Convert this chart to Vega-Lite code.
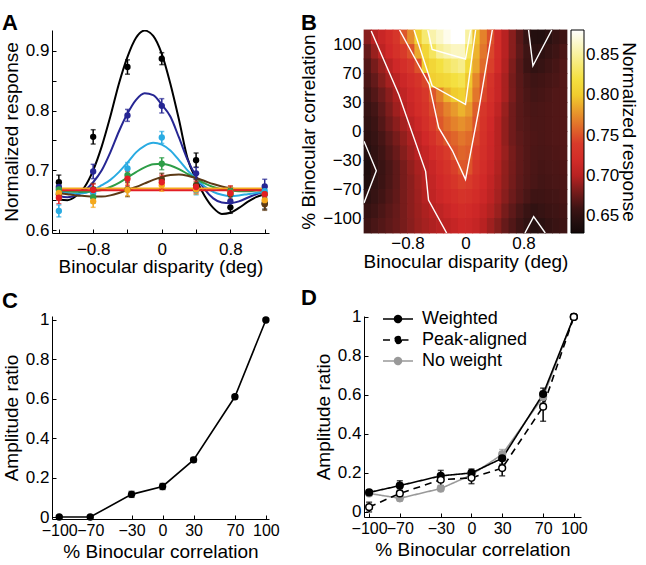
{
"$schema":"https://vega.github.io/schema/vega-lite/v6.json",
"background":"white",
"padding":{"left":2,"top":11,"right":0,"bottom":0},
"bounds":"flush",
"columns":2,
"spacing":{"row":83,"column":95},
"resolve":{"scale":{"color":"independent","stroke":"independent","fill":"independent","strokeDash":"independent","strokeWidth":"independent"},"legend":{"color":"independent","stroke":"independent","fill":"independent","strokeDash":"independent","strokeWidth":"independent"}},
"datasets":{
"curvesA":[
{"s":"100","d":-1.2,"v":0.651},{"s":"100","d":-1.1,"v":0.650},{"s":"100","d":-1.0,"v":0.657},{"s":"100","d":-0.9,"v":0.672},{"s":"100","d":-0.8,"v":0.700},{"s":"100","d":-0.7,"v":0.740},{"s":"100","d":-0.6,"v":0.790},{"s":"100","d":-0.5,"v":0.845},{"s":"100","d":-0.4,"v":0.890},{"s":"100","d":-0.3,"v":0.922},{"s":"100","d":-0.2,"v":0.934},{"s":"100","d":-0.1,"v":0.925},{"s":"100","d":0,"v":0.895},{"s":"100","d":0.1,"v":0.845},{"s":"100","d":0.2,"v":0.785},{"s":"100","d":0.3,"v":0.720},{"s":"100","d":0.4,"v":0.685},{"s":"100","d":0.5,"v":0.657},{"s":"100","d":0.6,"v":0.637},{"s":"100","d":0.7,"v":0.627},{"s":"100","d":0.8,"v":0.629},{"s":"100","d":0.9,"v":0.637},{"s":"100","d":1.0,"v":0.647},{"s":"100","d":1.1,"v":0.655},{"s":"100","d":1.2,"v":0.660},
{"s":"70","d":-1.2,"v":0.657},{"s":"70","d":-1.1,"v":0.655},{"s":"70","d":-1.0,"v":0.658},{"s":"70","d":-0.9,"v":0.666},{"s":"70","d":-0.8,"v":0.680},{"s":"70","d":-0.7,"v":0.700},{"s":"70","d":-0.6,"v":0.730},{"s":"70","d":-0.5,"v":0.765},{"s":"70","d":-0.4,"v":0.795},{"s":"70","d":-0.3,"v":0.818},{"s":"70","d":-0.2,"v":0.829},{"s":"70","d":-0.1,"v":0.826},{"s":"70","d":0,"v":0.810},{"s":"70","d":0.1,"v":0.790},{"s":"70","d":0.2,"v":0.755},{"s":"70","d":0.3,"v":0.718},{"s":"70","d":0.4,"v":0.690},{"s":"70","d":0.5,"v":0.668},{"s":"70","d":0.6,"v":0.653},{"s":"70","d":0.7,"v":0.646},{"s":"70","d":0.8,"v":0.645},{"s":"70","d":0.9,"v":0.648},{"s":"70","d":1.0,"v":0.654},{"s":"70","d":1.1,"v":0.660},{"s":"70","d":1.2,"v":0.664},
{"s":"30","d":-1.2,"v":0.664},{"s":"30","d":-1.1,"v":0.662},{"s":"30","d":-1.0,"v":0.661},{"s":"30","d":-0.9,"v":0.662},{"s":"30","d":-0.8,"v":0.667},{"s":"30","d":-0.7,"v":0.675},{"s":"30","d":-0.6,"v":0.684},{"s":"30","d":-0.5,"v":0.697},{"s":"30","d":-0.4,"v":0.713},{"s":"30","d":-0.3,"v":0.730},{"s":"30","d":-0.2,"v":0.741},{"s":"30","d":-0.1,"v":0.746},{"s":"30","d":0,"v":0.743},{"s":"30","d":0.1,"v":0.733},{"s":"30","d":0.2,"v":0.717},{"s":"30","d":0.3,"v":0.700},{"s":"30","d":0.4,"v":0.686},{"s":"30","d":0.5,"v":0.673},{"s":"30","d":0.6,"v":0.664},{"s":"30","d":0.7,"v":0.659},{"s":"30","d":0.8,"v":0.657},{"s":"30","d":0.9,"v":0.658},{"s":"30","d":1.0,"v":0.660},{"s":"30","d":1.1,"v":0.662},{"s":"30","d":1.2,"v":0.664},
{"s":"0","d":-1.2,"v":0.666},{"s":"0","d":-1.1,"v":0.665},{"s":"0","d":-1.0,"v":0.664},{"s":"0","d":-0.9,"v":0.664},{"s":"0","d":-0.8,"v":0.665},{"s":"0","d":-0.7,"v":0.667},{"s":"0","d":-0.6,"v":0.672},{"s":"0","d":-0.5,"v":0.679},{"s":"0","d":-0.4,"v":0.688},{"s":"0","d":-0.3,"v":0.697},{"s":"0","d":-0.2,"v":0.705},{"s":"0","d":-0.1,"v":0.710},{"s":"0","d":0,"v":0.711},{"s":"0","d":0.1,"v":0.708},{"s":"0","d":0.2,"v":0.702},{"s":"0","d":0.3,"v":0.694},{"s":"0","d":0.4,"v":0.686},{"s":"0","d":0.5,"v":0.678},{"s":"0","d":0.6,"v":0.672},{"s":"0","d":0.7,"v":0.668},{"s":"0","d":0.8,"v":0.666},{"s":"0","d":0.9,"v":0.665},{"s":"0","d":1.0,"v":0.665},{"s":"0","d":1.1,"v":0.666},{"s":"0","d":1.2,"v":0.666},
{"s":"-30","d":-1.2,"v":0.662},{"s":"-30","d":-1.1,"v":0.660},{"s":"-30","d":-1.0,"v":0.658},{"s":"-30","d":-0.9,"v":0.657},{"s":"-30","d":-0.8,"v":0.656},{"s":"-30","d":-0.7,"v":0.656},{"s":"-30","d":-0.6,"v":0.658},{"s":"-30","d":-0.5,"v":0.662},{"s":"-30","d":-0.4,"v":0.667},{"s":"-30","d":-0.3,"v":0.672},{"s":"-30","d":-0.2,"v":0.678},{"s":"-30","d":-0.1,"v":0.684},{"s":"-30","d":0,"v":0.689},{"s":"-30","d":0.1,"v":0.692},{"s":"-30","d":0.2,"v":0.693},{"s":"-30","d":0.3,"v":0.691},{"s":"-30","d":0.4,"v":0.687},{"s":"-30","d":0.5,"v":0.682},{"s":"-30","d":0.6,"v":0.677},{"s":"-30","d":0.7,"v":0.673},{"s":"-30","d":0.8,"v":0.670},{"s":"-30","d":0.9,"v":0.668},{"s":"-30","d":1.0,"v":0.667},{"s":"-30","d":1.1,"v":0.667},{"s":"-30","d":1.2,"v":0.667},
{"s":"-70","d":-1.2,"v":0.6695},{"s":"-70","d":1.2,"v":0.6695},
{"s":"-100","d":-1.2,"v":0.6665},{"s":"-100","d":1.2,"v":0.6665}
],
"pointsA":[
{"s":"100","d":-1.2,"v":0.680,"e":0.012},{"s":"100","d":-0.8,"v":0.756,"e":0.012},{"s":"100","d":-0.4,"v":0.873,"e":0.012},{"s":"100","d":0,"v":0.887,"e":0.01},{"s":"100","d":0.4,"v":0.717,"e":0.012},{"s":"100","d":0.8,"v":0.638,"e":0.01},{"s":"100","d":1.2,"v":0.645,"e":0.01},
{"s":"70","d":-1.2,"v":0.672,"e":0.01},{"s":"70","d":-0.8,"v":0.698,"e":0.012},{"s":"70","d":-0.4,"v":0.792,"e":0.01},{"s":"70","d":0,"v":0.808,"e":0.012},{"s":"70","d":0.4,"v":0.695,"e":0.01},{"s":"70","d":0.8,"v":0.648,"e":0.01},{"s":"70","d":1.2,"v":0.673,"e":0.012},
{"s":"30","d":-1.2,"v":0.632,"e":0.01},{"s":"30","d":-0.8,"v":0.662,"e":0.01},{"s":"30","d":-0.4,"v":0.703,"e":0.01},{"s":"30","d":0,"v":0.755,"e":0.01},{"s":"30","d":0.4,"v":0.667,"e":0.008},{"s":"30","d":0.8,"v":0.662,"e":0.008},{"s":"30","d":1.2,"v":0.665,"e":0.008},
{"s":"0","d":-1.2,"v":0.668,"e":0.008},{"s":"0","d":-0.8,"v":0.655,"e":0.01},{"s":"0","d":-0.4,"v":0.692,"e":0.01},{"s":"0","d":0,"v":0.711,"e":0.01},{"s":"0","d":0.4,"v":0.672,"e":0.008},{"s":"0","d":0.8,"v":0.665,"e":0.008},{"s":"0","d":1.2,"v":0.660,"e":0.008},
{"s":"-30","d":-1.2,"v":0.660,"e":0.01},{"s":"-30","d":-0.8,"v":0.668,"e":0.01},{"s":"-30","d":-0.4,"v":0.668,"e":0.012},{"s":"-30","d":0,"v":0.685,"e":0.01},{"s":"-30","d":0.4,"v":0.675,"e":0.01},{"s":"-30","d":0.8,"v":0.660,"e":0.01},{"s":"-30","d":1.2,"v":0.643,"e":0.01},
{"s":"-70","d":-1.2,"v":0.662,"e":0.01},{"s":"-70","d":-0.8,"v":0.648,"e":0.01},{"s":"-70","d":-0.4,"v":0.667,"e":0.01},{"s":"-70","d":0,"v":0.675,"e":0.01},{"s":"-70","d":0.4,"v":0.668,"e":0.008},{"s":"-70","d":0.8,"v":0.662,"e":0.01},{"s":"-70","d":1.2,"v":0.650,"e":0.01},
{"s":"-100","d":-1.2,"v":0.654,"e":0.01},{"s":"-100","d":-0.8,"v":0.667,"e":0.01},{"s":"-100","d":-0.4,"v":0.686,"e":0.012},{"s":"-100","d":0,"v":0.680,"e":0.012},{"s":"-100","d":0.4,"v":0.672,"e":0.01},{"s":"-100","d":0.8,"v":0.662,"e":0.012},{"s":"-100","d":1.2,"v":0.660,"e":0.012}
],
"heatB":[
{"d":-1.35,"c":107.5,"v":0.685},{"d":-1.25,"c":107.5,"v":0.70},{"d":-1.15,"c":107.5,"v":0.71},{"d":-1.05,"c":107.5,"v":0.72},{"d":-0.95,"c":107.5,"v":0.735},{"d":-0.85,"c":107.5,"v":0.752},{"d":-0.75,"c":107.5,"v":0.775},{"d":-0.65,"c":107.5,"v":0.805},{"d":-0.55,"c":107.5,"v":0.836},{"d":-0.45,"c":107.5,"v":0.855},{"d":-0.35,"c":107.5,"v":0.865},{"d":-0.25,"c":107.5,"v":0.875},{"d":-0.15,"c":107.5,"v":0.882},{"d":-0.05,"c":107.5,"v":0.885},{"d":0.05,"c":107.5,"v":0.852},{"d":0.15,"c":107.5,"v":0.795},{"d":0.25,"c":107.5,"v":0.77},{"d":0.35,"c":107.5,"v":0.75},{"d":0.45,"c":107.5,"v":0.72},{"d":0.55,"c":107.5,"v":0.70},{"d":0.65,"c":107.5,"v":0.685},{"d":0.75,"c":107.5,"v":0.67},{"d":0.85,"c":107.5,"v":0.655},{"d":0.95,"c":107.5,"v":0.643},{"d":1.05,"c":107.5,"v":0.642},{"d":1.15,"c":107.5,"v":0.648},{"d":1.25,"c":107.5,"v":0.655},{"d":1.35,"c":107.5,"v":0.66},
{"d":-1.35,"c":92.5,"v":0.675},{"d":-1.25,"c":92.5,"v":0.69},{"d":-1.15,"c":92.5,"v":0.703},{"d":-1.05,"c":92.5,"v":0.715},{"d":-0.95,"c":92.5,"v":0.728},{"d":-0.85,"c":92.5,"v":0.74},{"d":-0.75,"c":92.5,"v":0.75},{"d":-0.65,"c":92.5,"v":0.786},{"d":-0.55,"c":92.5,"v":0.81},{"d":-0.45,"c":92.5,"v":0.83},{"d":-0.35,"c":92.5,"v":0.849},{"d":-0.25,"c":92.5,"v":0.856},{"d":-0.15,"c":92.5,"v":0.862},{"d":-0.05,"c":92.5,"v":0.862},{"d":0.05,"c":92.5,"v":0.83},{"d":0.15,"c":92.5,"v":0.79},{"d":0.25,"c":92.5,"v":0.765},{"d":0.35,"c":92.5,"v":0.745},{"d":0.45,"c":92.5,"v":0.72},{"d":0.55,"c":92.5,"v":0.70},{"d":0.65,"c":92.5,"v":0.685},{"d":0.75,"c":92.5,"v":0.672},{"d":0.85,"c":92.5,"v":0.66},{"d":0.95,"c":92.5,"v":0.648},{"d":1.05,"c":92.5,"v":0.65},{"d":1.15,"c":92.5,"v":0.655},{"d":1.25,"c":92.5,"v":0.66},{"d":1.35,"c":92.5,"v":0.665},
{"d":-1.35,"c":77.5,"v":0.668},{"d":-1.25,"c":77.5,"v":0.68},{"d":-1.15,"c":77.5,"v":0.69},{"d":-1.05,"c":77.5,"v":0.702},{"d":-0.95,"c":77.5,"v":0.714},{"d":-0.85,"c":77.5,"v":0.724},{"d":-0.75,"c":77.5,"v":0.735},{"d":-0.65,"c":77.5,"v":0.75},{"d":-0.55,"c":77.5,"v":0.80},{"d":-0.45,"c":77.5,"v":0.81},{"d":-0.35,"c":77.5,"v":0.82},{"d":-0.25,"c":77.5,"v":0.83},{"d":-0.15,"c":77.5,"v":0.838},{"d":-0.05,"c":77.5,"v":0.845},{"d":0.05,"c":77.5,"v":0.815},{"d":0.15,"c":77.5,"v":0.785},{"d":0.25,"c":77.5,"v":0.76},{"d":0.35,"c":77.5,"v":0.742},{"d":0.45,"c":77.5,"v":0.718},{"d":0.55,"c":77.5,"v":0.698},{"d":0.65,"c":77.5,"v":0.682},{"d":0.75,"c":77.5,"v":0.669},{"d":0.85,"c":77.5,"v":0.658},{"d":0.95,"c":77.5,"v":0.652},{"d":1.05,"c":77.5,"v":0.655},{"d":1.15,"c":77.5,"v":0.66},{"d":1.25,"c":77.5,"v":0.663},{"d":1.35,"c":77.5,"v":0.667},
{"d":-1.35,"c":60,"v":0.665},{"d":-1.25,"c":60,"v":0.674},{"d":-1.15,"c":60,"v":0.684},{"d":-1.05,"c":60,"v":0.694},{"d":-0.95,"c":60,"v":0.702},{"d":-0.85,"c":60,"v":0.712},{"d":-0.75,"c":60,"v":0.722},{"d":-0.65,"c":60,"v":0.732},{"d":-0.55,"c":60,"v":0.745},{"d":-0.45,"c":60,"v":0.803},{"d":-0.35,"c":60,"v":0.808},{"d":-0.25,"c":60,"v":0.812},{"d":-0.15,"c":60,"v":0.82},{"d":-0.05,"c":60,"v":0.825},{"d":0.05,"c":60,"v":0.798},{"d":0.15,"c":60,"v":0.772},{"d":0.25,"c":60,"v":0.75},{"d":0.35,"c":60,"v":0.73},{"d":0.45,"c":60,"v":0.71},{"d":0.55,"c":60,"v":0.695},{"d":0.65,"c":60,"v":0.68},{"d":0.75,"c":60,"v":0.67},{"d":0.85,"c":60,"v":0.663},{"d":0.95,"c":60,"v":0.66},{"d":1.05,"c":60,"v":0.661},{"d":1.15,"c":60,"v":0.663},{"d":1.25,"c":60,"v":0.665},{"d":1.35,"c":60,"v":0.668},
{"d":-1.35,"c":40,"v":0.66},{"d":-1.25,"c":40,"v":0.668},{"d":-1.15,"c":40,"v":0.677},{"d":-1.05,"c":40,"v":0.686},{"d":-0.95,"c":40,"v":0.696},{"d":-0.85,"c":40,"v":0.705},{"d":-0.75,"c":40,"v":0.714},{"d":-0.65,"c":40,"v":0.724},{"d":-0.55,"c":40,"v":0.736},{"d":-0.45,"c":40,"v":0.752},{"d":-0.35,"c":40,"v":0.77},{"d":-0.25,"c":40,"v":0.79},{"d":-0.15,"c":40,"v":0.80},{"d":-0.05,"c":40,"v":0.806},{"d":0.05,"c":40,"v":0.792},{"d":0.15,"c":40,"v":0.765},{"d":0.25,"c":40,"v":0.745},{"d":0.35,"c":40,"v":0.726},{"d":0.45,"c":40,"v":0.71},{"d":0.55,"c":40,"v":0.695},{"d":0.65,"c":40,"v":0.681},{"d":0.75,"c":40,"v":0.671},{"d":0.85,"c":40,"v":0.665},{"d":0.95,"c":40,"v":0.662},{"d":1.05,"c":40,"v":0.663},{"d":1.15,"c":40,"v":0.665},{"d":1.25,"c":40,"v":0.667},{"d":1.35,"c":40,"v":0.668},
{"d":-1.35,"c":22.5,"v":0.655},{"d":-1.25,"c":22.5,"v":0.662},{"d":-1.15,"c":22.5,"v":0.672},{"d":-1.05,"c":22.5,"v":0.682},{"d":-0.95,"c":22.5,"v":0.692},{"d":-0.85,"c":22.5,"v":0.70},{"d":-0.75,"c":22.5,"v":0.71},{"d":-0.65,"c":22.5,"v":0.72},{"d":-0.55,"c":22.5,"v":0.73},{"d":-0.45,"c":22.5,"v":0.745},{"d":-0.35,"c":22.5,"v":0.758},{"d":-0.25,"c":22.5,"v":0.77},{"d":-0.15,"c":22.5,"v":0.78},{"d":-0.05,"c":22.5,"v":0.79},{"d":0.05,"c":22.5,"v":0.78},{"d":0.15,"c":22.5,"v":0.755},{"d":0.25,"c":22.5,"v":0.735},{"d":0.35,"c":22.5,"v":0.72},{"d":0.45,"c":22.5,"v":0.705},{"d":0.55,"c":22.5,"v":0.69},{"d":0.65,"c":22.5,"v":0.678},{"d":0.75,"c":22.5,"v":0.67},{"d":0.85,"c":22.5,"v":0.666},{"d":0.95,"c":22.5,"v":0.664},{"d":1.05,"c":22.5,"v":0.665},{"d":1.15,"c":22.5,"v":0.666},{"d":1.25,"c":22.5,"v":0.667},{"d":1.35,"c":22.5,"v":0.668},
{"d":-1.35,"c":7.5,"v":0.652},{"d":-1.25,"c":7.5,"v":0.658},{"d":-1.15,"c":7.5,"v":0.668},{"d":-1.05,"c":7.5,"v":0.678},{"d":-0.95,"c":7.5,"v":0.686},{"d":-0.85,"c":7.5,"v":0.694},{"d":-0.75,"c":7.5,"v":0.702},{"d":-0.65,"c":7.5,"v":0.712},{"d":-0.55,"c":7.5,"v":0.725},{"d":-0.45,"c":7.5,"v":0.74},{"d":-0.35,"c":7.5,"v":0.752},{"d":-0.25,"c":7.5,"v":0.762},{"d":-0.15,"c":7.5,"v":0.77},{"d":-0.05,"c":7.5,"v":0.776},{"d":0.05,"c":7.5,"v":0.77},{"d":0.15,"c":7.5,"v":0.75},{"d":0.25,"c":7.5,"v":0.73},{"d":0.35,"c":7.5,"v":0.715},{"d":0.45,"c":7.5,"v":0.70},{"d":0.55,"c":7.5,"v":0.688},{"d":0.65,"c":7.5,"v":0.678},{"d":0.75,"c":7.5,"v":0.67},{"d":0.85,"c":7.5,"v":0.667},{"d":0.95,"c":7.5,"v":0.665},{"d":1.05,"c":7.5,"v":0.665},{"d":1.15,"c":7.5,"v":0.666},{"d":1.25,"c":7.5,"v":0.667},{"d":1.35,"c":7.5,"v":0.668},
{"d":-1.35,"c":-7.5,"v":0.65},{"d":-1.25,"c":-7.5,"v":0.655},{"d":-1.15,"c":-7.5,"v":0.663},{"d":-1.05,"c":-7.5,"v":0.672},{"d":-0.95,"c":-7.5,"v":0.68},{"d":-0.85,"c":-7.5,"v":0.688},{"d":-0.75,"c":-7.5,"v":0.696},{"d":-0.65,"c":-7.5,"v":0.705},{"d":-0.55,"c":-7.5,"v":0.715},{"d":-0.45,"c":-7.5,"v":0.728},{"d":-0.35,"c":-7.5,"v":0.742},{"d":-0.25,"c":-7.5,"v":0.752},{"d":-0.15,"c":-7.5,"v":0.758},{"d":-0.05,"c":-7.5,"v":0.765},{"d":0.05,"c":-7.5,"v":0.76},{"d":0.15,"c":-7.5,"v":0.745},{"d":0.25,"c":-7.5,"v":0.728},{"d":0.35,"c":-7.5,"v":0.713},{"d":0.45,"c":-7.5,"v":0.70},{"d":0.55,"c":-7.5,"v":0.688},{"d":0.65,"c":-7.5,"v":0.678},{"d":0.75,"c":-7.5,"v":0.672},{"d":0.85,"c":-7.5,"v":0.668},{"d":0.95,"c":-7.5,"v":0.666},{"d":1.05,"c":-7.5,"v":0.665},{"d":1.15,"c":-7.5,"v":0.666},{"d":1.25,"c":-7.5,"v":0.667},{"d":1.35,"c":-7.5,"v":0.668},
{"d":-1.35,"c":-22.5,"v":0.645},{"d":-1.25,"c":-22.5,"v":0.652},{"d":-1.15,"c":-22.5,"v":0.66},{"d":-1.05,"c":-22.5,"v":0.668},{"d":-0.95,"c":-22.5,"v":0.676},{"d":-0.85,"c":-22.5,"v":0.684},{"d":-0.75,"c":-22.5,"v":0.692},{"d":-0.65,"c":-22.5,"v":0.70},{"d":-0.55,"c":-22.5,"v":0.708},{"d":-0.45,"c":-22.5,"v":0.718},{"d":-0.35,"c":-22.5,"v":0.728},{"d":-0.25,"c":-22.5,"v":0.74},{"d":-0.15,"c":-22.5,"v":0.752},{"d":-0.05,"c":-22.5,"v":0.758},{"d":0.05,"c":-22.5,"v":0.755},{"d":0.15,"c":-22.5,"v":0.74},{"d":0.25,"c":-22.5,"v":0.725},{"d":0.35,"c":-22.5,"v":0.712},{"d":0.45,"c":-22.5,"v":0.70},{"d":0.55,"c":-22.5,"v":0.69},{"d":0.65,"c":-22.5,"v":0.68},{"d":0.75,"c":-22.5,"v":0.673},{"d":0.85,"c":-22.5,"v":0.668},{"d":0.95,"c":-22.5,"v":0.665},{"d":1.05,"c":-22.5,"v":0.664},{"d":1.15,"c":-22.5,"v":0.665},{"d":1.25,"c":-22.5,"v":0.666},{"d":1.35,"c":-22.5,"v":0.667},
{"d":-1.35,"c":-40,"v":0.638},{"d":-1.25,"c":-40,"v":0.65},{"d":-1.15,"c":-40,"v":0.657},{"d":-1.05,"c":-40,"v":0.664},{"d":-0.95,"c":-40,"v":0.672},{"d":-0.85,"c":-40,"v":0.68},{"d":-0.75,"c":-40,"v":0.688},{"d":-0.65,"c":-40,"v":0.695},{"d":-0.55,"c":-40,"v":0.702},{"d":-0.45,"c":-40,"v":0.71},{"d":-0.35,"c":-40,"v":0.72},{"d":-0.25,"c":-40,"v":0.73},{"d":-0.15,"c":-40,"v":0.742},{"d":-0.05,"c":-40,"v":0.752},{"d":0.05,"c":-40,"v":0.75},{"d":0.15,"c":-40,"v":0.735},{"d":0.25,"c":-40,"v":0.722},{"d":0.35,"c":-40,"v":0.71},{"d":0.45,"c":-40,"v":0.698},{"d":0.55,"c":-40,"v":0.688},{"d":0.65,"c":-40,"v":0.68},{"d":0.75,"c":-40,"v":0.673},{"d":0.85,"c":-40,"v":0.668},{"d":0.95,"c":-40,"v":0.665},{"d":1.05,"c":-40,"v":0.663},{"d":1.15,"c":-40,"v":0.664},{"d":1.25,"c":-40,"v":0.665},{"d":1.35,"c":-40,"v":0.666},
{"d":-1.35,"c":-60,"v":0.64},{"d":-1.25,"c":-60,"v":0.651},{"d":-1.15,"c":-60,"v":0.658},{"d":-1.05,"c":-60,"v":0.665},{"d":-0.95,"c":-60,"v":0.672},{"d":-0.85,"c":-60,"v":0.68},{"d":-0.75,"c":-60,"v":0.686},{"d":-0.65,"c":-60,"v":0.693},{"d":-0.55,"c":-60,"v":0.70},{"d":-0.45,"c":-60,"v":0.707},{"d":-0.35,"c":-60,"v":0.715},{"d":-0.25,"c":-60,"v":0.724},{"d":-0.15,"c":-60,"v":0.733},{"d":-0.05,"c":-60,"v":0.742},{"d":0.05,"c":-60,"v":0.74},{"d":0.15,"c":-60,"v":0.728},{"d":0.25,"c":-60,"v":0.717},{"d":0.35,"c":-60,"v":0.706},{"d":0.45,"c":-60,"v":0.696},{"d":0.55,"c":-60,"v":0.687},{"d":0.65,"c":-60,"v":0.679},{"d":0.75,"c":-60,"v":0.672},{"d":0.85,"c":-60,"v":0.667},{"d":0.95,"c":-60,"v":0.664},{"d":1.05,"c":-60,"v":0.662},{"d":1.15,"c":-60,"v":0.663},{"d":1.25,"c":-60,"v":0.664},{"d":1.35,"c":-60,"v":0.665},
{"d":-1.35,"c":-77.5,"v":0.649},{"d":-1.25,"c":-77.5,"v":0.655},{"d":-1.15,"c":-77.5,"v":0.661},{"d":-1.05,"c":-77.5,"v":0.667},{"d":-0.95,"c":-77.5,"v":0.673},{"d":-0.85,"c":-77.5,"v":0.68},{"d":-0.75,"c":-77.5,"v":0.686},{"d":-0.65,"c":-77.5,"v":0.692},{"d":-0.55,"c":-77.5,"v":0.699},{"d":-0.45,"c":-77.5,"v":0.705},{"d":-0.35,"c":-77.5,"v":0.712},{"d":-0.25,"c":-77.5,"v":0.718},{"d":-0.15,"c":-77.5,"v":0.724},{"d":-0.05,"c":-77.5,"v":0.73},{"d":0.05,"c":-77.5,"v":0.728},{"d":0.15,"c":-77.5,"v":0.72},{"d":0.25,"c":-77.5,"v":0.712},{"d":0.35,"c":-77.5,"v":0.703},{"d":0.45,"c":-77.5,"v":0.694},{"d":0.55,"c":-77.5,"v":0.685},{"d":0.65,"c":-77.5,"v":0.677},{"d":0.75,"c":-77.5,"v":0.67},{"d":0.85,"c":-77.5,"v":0.664},{"d":0.95,"c":-77.5,"v":0.66},{"d":1.05,"c":-77.5,"v":0.66},{"d":1.15,"c":-77.5,"v":0.661},{"d":1.25,"c":-77.5,"v":0.662},{"d":1.35,"c":-77.5,"v":0.664},
{"d":-1.35,"c":-92.5,"v":0.655},{"d":-1.25,"c":-92.5,"v":0.66},{"d":-1.15,"c":-92.5,"v":0.665},{"d":-1.05,"c":-92.5,"v":0.67},{"d":-0.95,"c":-92.5,"v":0.675},{"d":-0.85,"c":-92.5,"v":0.68},{"d":-0.75,"c":-92.5,"v":0.686},{"d":-0.65,"c":-92.5,"v":0.691},{"d":-0.55,"c":-92.5,"v":0.696},{"d":-0.45,"c":-92.5,"v":0.70},{"d":-0.35,"c":-92.5,"v":0.704},{"d":-0.25,"c":-92.5,"v":0.71},{"d":-0.15,"c":-92.5,"v":0.715},{"d":-0.05,"c":-92.5,"v":0.72},{"d":0.05,"c":-92.5,"v":0.718},{"d":0.15,"c":-92.5,"v":0.713},{"d":0.25,"c":-92.5,"v":0.706},{"d":0.35,"c":-92.5,"v":0.698},{"d":0.45,"c":-92.5,"v":0.69},{"d":0.55,"c":-92.5,"v":0.68},{"d":0.65,"c":-92.5,"v":0.672},{"d":0.75,"c":-92.5,"v":0.664},{"d":0.85,"c":-92.5,"v":0.657},{"d":0.95,"c":-92.5,"v":0.652},{"d":1.05,"c":-92.5,"v":0.655},{"d":1.15,"c":-92.5,"v":0.658},{"d":1.25,"c":-92.5,"v":0.66},{"d":1.35,"c":-92.5,"v":0.662},
{"d":-1.35,"c":-107.5,"v":0.66},{"d":-1.25,"c":-107.5,"v":0.664},{"d":-1.15,"c":-107.5,"v":0.668},{"d":-1.05,"c":-107.5,"v":0.672},{"d":-0.95,"c":-107.5,"v":0.676},{"d":-0.85,"c":-107.5,"v":0.68},{"d":-0.75,"c":-107.5,"v":0.685},{"d":-0.65,"c":-107.5,"v":0.69},{"d":-0.55,"c":-107.5,"v":0.694},{"d":-0.45,"c":-107.5,"v":0.697},{"d":-0.35,"c":-107.5,"v":0.70},{"d":-0.25,"c":-107.5,"v":0.703},{"d":-0.15,"c":-107.5,"v":0.708},{"d":-0.05,"c":-107.5,"v":0.713},{"d":0.05,"c":-107.5,"v":0.712},{"d":0.15,"c":-107.5,"v":0.708},{"d":0.25,"c":-107.5,"v":0.70},{"d":0.35,"c":-107.5,"v":0.692},{"d":0.45,"c":-107.5,"v":0.684},{"d":0.55,"c":-107.5,"v":0.675},{"d":0.65,"c":-107.5,"v":0.667},{"d":0.75,"c":-107.5,"v":0.66},{"d":0.85,"c":-107.5,"v":0.652},{"d":0.95,"c":-107.5,"v":0.645},{"d":1.05,"c":-107.5,"v":0.648},{"d":1.15,"c":-107.5,"v":0.653},{"d":1.25,"c":-107.5,"v":0.657},{"d":1.35,"c":-107.5,"v":0.66}
],
"contB":[
{"g":"c70","i":0,"d":-1.30,"c":114},{"g":"c70","i":1,"d":-0.92,"c":41},{"g":"c70","i":2,"d":-0.55,"c":-45},{"g":"c70","i":3,"d":-0.51,"c":-81},{"g":"c70","i":4,"d":-0.26,"c":-115},
{"g":"c75","i":0,"d":-0.91,"c":115},{"g":"c75","i":1,"d":-0.50,"c":55},{"g":"c75","i":2,"d":-0.37,"c":4},{"g":"c75","i":3,"d":-0.18,"c":-20},{"g":"c75","i":4,"d":0,"c":-56},{"g":"c75","i":5,"d":0.18,"c":21},{"g":"c75","i":6,"d":0.37,"c":115},
{"g":"c80","i":0,"d":-0.71,"c":115},{"g":"c80","i":1,"d":-0.46,"c":53},{"g":"c80","i":2,"d":0,"c":28},{"g":"c80","i":3,"d":0.14,"c":115},
{"g":"c85","i":0,"d":-0.52,"c":115},{"g":"c85","i":1,"d":-0.46,"c":95},{"g":"c85","i":2,"d":0,"c":85},{"g":"c85","i":3,"d":0.07,"c":115},
{"g":"c65a","i":0,"d":-1.40,"c":-10},{"g":"c65a","i":1,"d":-1.23,"c":-44},{"g":"c65a","i":2,"d":-1.40,"c":-84},
{"g":"c65b","i":0,"d":0.87,"c":115},{"g":"c65b","i":1,"d":0.93,"c":78},{"g":"c65b","i":2,"d":1.19,"c":115},
{"g":"c65c","i":0,"d":0.82,"c":-115},{"g":"c65c","i":1,"d":0.94,"c":-98},{"g":"c65c","i":2,"d":1.10,"c":-115}
],
"ampC":[
{"c":-100,"v":0,"e":0.006},{"c":-70,"v":0,"e":0.006},{"c":-30,"v":0.115,"e":0.015},{"c":0,"v":0.155,"e":0.015},{"c":30,"v":0.29,"e":0.012},{"c":70,"v":0.61,"e":0.01},{"c":100,"v":1,"e":0.004}
],
"ampD":[
{"s":"No weight","c":-100,"v":0.095,"e":0.012},{"s":"No weight","c":-70,"v":0.07,"e":0.015},{"s":"No weight","c":-30,"v":0.12,"e":0.015},{"s":"No weight","c":0,"v":0.19,"e":0.015},{"s":"No weight","c":30,"v":0.295,"e":0.025},{"s":"No weight","c":70,"v":0.59,"e":0.03},{"s":"No weight","c":100,"v":1,"e":0},
{"s":"Weighted","c":-100,"v":0.1,"e":0.01},{"s":"Weighted","c":-70,"v":0.135,"e":0.025},{"s":"Weighted","c":-30,"v":0.185,"e":0.028},{"s":"Weighted","c":0,"v":0.2,"e":0.02},{"s":"Weighted","c":30,"v":0.275,"e":0.03},{"s":"Weighted","c":70,"v":0.605,"e":0.03},{"s":"Weighted","c":100,"v":1,"e":0},
{"s":"Peak-aligned","c":-100,"v":0.025,"e":0.025},{"s":"Peak-aligned","c":-70,"v":0.095,"e":0.025},{"s":"Peak-aligned","c":-30,"v":0.165,"e":0.03},{"s":"Peak-aligned","c":0,"v":0.175,"e":0.03},{"s":"Peak-aligned","c":30,"v":0.225,"e":0.04},{"s":"Peak-aligned","c":70,"v":0.54,"e":0.075},{"s":"Peak-aligned","c":100,"v":1,"e":0}
]
},
"concat":[
{"width":217,"height":203,
 "title":{"text":"A","dx":-50,"offset":3,"dy":8},
 "encoding":{
  "x":{"field":"d","type":"quantitative","title":"Binocular disparity (deg)","scale":{"domain":[-1.28,1.25],"nice":false,"zero":false},"axis":{"values":[-1.2,-0.8,-0.4,0,0.4,0.8,1.2],"labelExpr":"datum.value == 0 ? '0' : datum.value == -0.8 ? '−0.8' : datum.value == 0.8 ? '0.8' : ''","labelPadding":12,"titlePadding":0}},
  "y":{"field":"v","type":"quantitative","title":"Normalized response","scale":{"domain":[0.595,0.935],"nice":false,"zero":false},"axis":{"values":[0.6,0.65,0.7,0.75,0.8,0.85,0.9],"labelExpr":"round(datum.value*100) % 10 == 0 ? format(datum.value,'.1f') : ''"}}
 },
 "layer":[
  {"data":{"name":"curvesA"},"mark":{"type":"line","interpolate":"monotone","clip":true},
   "encoding":{"color":{"field":"s","type":"nominal","scale":{"domain":["100","70","30","0","-30","-70","-100"],"range":["#000000","#262693","#29abe2","#2e9e48","#5c3a16","#f5a81c","#e31e24"]},"legend":null},
    "strokeWidth":{"field":"s","type":"nominal","scale":{"domain":["100","70","30","0","-30","-70","-100"],"range":[2,2,2,2,2,2,3.5]},"legend":null}}},
  {"data":{"name":"pointsA"},"mark":{"type":"errorbar","ticks":{"size":5},"thickness":1.5},
   "encoding":{"yError":{"field":"e"},"color":{"field":"s","type":"nominal","legend":null}}},
  {"data":{"name":"pointsA"},"mark":{"type":"circle","size":40,"opacity":1},
   "encoding":{"color":{"field":"s","type":"nominal","legend":null}}}
 ]
},
{"width":203,"height":203,
 "title":{"text":"B","dx":-63,"offset":3,"dy":8},
 "resolve":{"scale":{"x":"independent","y":"independent"}},
 "layer":[
  {"data":{"name":"heatB"},"mark":{"type":"rect","width":{"band":1.1},"height":{"band":1.06}},
   "encoding":{
    "x":{"field":"d","type":"ordinal","axis":null,"scale":{"paddingInner":0,"paddingOuter":0}},
    "y":{"field":"c","type":"ordinal","sort":"descending","axis":null,"scale":{"paddingInner":0,"paddingOuter":0}},
    "color":{"field":"v","type":"quantitative","scale":{"type":"linear","interpolate":"rgb","domain":[0.629,0.645,0.66,0.675,0.69,0.70,0.715,0.74,0.76,0.78,0.80,0.82,0.85,0.881],"range":["#140808","#261010","#3e1414","#661a1a","#99201e","#b82222","#d02828","#d83a2a","#e06a2a","#e89a2c","#f0cc2e","#f4e040","#f8f09a","#ffffff"]},
     "legend":{"type":"gradient","values":[0.65,0.7,0.75,0.8,0.85],"format":".2f","title":"Normalized response","titleOrient":"right","gradientLength":203,"gradientThickness":13,"gradientStrokeColor":"black","gradientStrokeWidth":1,"labelFontSize":17,"titleFontSize":19,"titleFontWeight":"normal","labelOffset":2,"offset":4,"titlePadding":0}}
   }},
  {"data":{"name":"contB"},"mark":{"type":"line","stroke":"white","strokeWidth":1.4,"clip":true},
   "encoding":{
    "x":{"field":"d","type":"quantitative","title":"Binocular disparity (deg)","scale":{"domain":[-1.4,1.4],"nice":false,"zero":false},"axis":{"orient":"bottom","values":[-1.2,-0.8,-0.4,0,0.4,0.8,1.2],"labelExpr":"datum.value == 0 ? '0' : datum.value == -0.8 ? '−0.8' : datum.value == 0.8 ? '0.8' : ''","tickColor":"white","domain":false,"labelPadding":6,"titlePadding":1}},
    "y":{"field":"c","type":"quantitative","title":"% Binocular correlation","scale":{"domain":[-115,-100,-70,-30,0,30,70,100,115],"range":[203,188.5,159.5,130.5,101.5,72.5,43.5,14.5,0],"nice":false,"zero":false},"axis":{"orient":"left","values":[-100,-70,-30,0,30,70,100],"format":"d","tickColor":"white","domain":false}},
    "detail":{"field":"g","type":"nominal"},
    "order":{"field":"i","type":"quantitative"}
   }}
 ]
},
{"width":217,"height":203,
 "title":{"text":"C","dx":-50,"offset":6,"dy":8},
 "data":{"name":"ampC"},
 "encoding":{
  "x":{"field":"c","type":"quantitative","title":"% Binocular correlation","scale":{"domain":[-107,103],"nice":false,"zero":false},"axis":{"values":[-100,-70,-30,0,30,70,100],"format":"d","labelPadding":7,"titlePadding":4,"labelFontSize":16}},
  "y":{"field":"v","type":"quantitative","title":"Amplitude ratio","scale":{"domain":[-0.01,1.02],"nice":false,"zero":false},"axis":{"values":[0,0.2,0.4,0.6,0.8,1],"format":"~g"}}
 },
 "layer":[
  {"mark":{"type":"line","color":"black","strokeWidth":1.6}},
  {"mark":{"type":"errorbar","color":"black","ticks":{"size":6},"thickness":1.5},"encoding":{"yError":{"field":"e"}}},
  {"mark":{"type":"circle","size":55,"color":"black","opacity":1}}
 ]
},
{"width":217,"height":201,
 "title":{"text":"D","dx":-63,"offset":6,"dy":8},
 "data":{"name":"ampD"},
 "encoding":{
  "x":{"field":"c","type":"quantitative","title":"% Binocular correlation","scale":{"domain":[-105,107],"nice":false,"zero":false},"axis":{"values":[-100,-70,-30,0,30,70,100],"format":"d","labelPadding":7,"titlePadding":4,"labelFontSize":16}},
  "y":{"field":"v","type":"quantitative","title":"Amplitude ratio","scale":{"domain":[-0.026,1.005],"nice":false,"zero":false},"axis":{"values":[0,0.2,0.4,0.6,0.8,1],"format":"~g"}}
 },
 "layer":[
  {"mark":{"type":"line","strokeWidth":1.6},
   "encoding":{
    "color":{"field":"s","type":"nominal","scale":{"domain":["Weighted","Peak-aligned","No weight"],"range":["black","black","#999999"]},
     "legend":{"title":null,"orient":"none","legendX":25,"legendY":-6,"symbolType":"M-3,0H-0.7M0.7,0H3M0.7,0A0.7,0.7,0,1,1,-0.7,0A0.7,0.7,0,1,1,0.7,0","symbolSize":100,"symbolStrokeWidth":1.5,"labelFontSize":18,"labelOffset":15,"rowPadding":3,
      "encode":{"symbols":{"update":{"strokeDash":{"signal":"datum.value === 'Peak-aligned' ? [5,3] : [1,0]"}}}}}},
    "strokeDash":{"field":"s","type":"nominal","scale":{"domain":["Weighted","Peak-aligned","No weight"],"range":[[1,0],[7,5],[1,0]]},"legend":null}
   }},
  {"mark":{"type":"errorbar","ticks":{"size":6},"thickness":1.5},
   "encoding":{"yError":{"field":"e"},"color":{"field":"s","type":"nominal"}}},
  {"mark":{"type":"point","filled":false,"size":45,"strokeWidth":1.5,"opacity":1,"shape":"circle"},
   "encoding":{
    "fill":{"field":"s","type":"nominal","scale":{"domain":["Weighted","Peak-aligned","No weight"],"range":["black","white","#999999"]},
     "legend":{"title":null,"orient":"none","legendX":25,"legendY":-6,"symbolType":"M-3,0H-0.7M0.7,0H3M0.7,0A0.7,0.7,0,1,1,-0.7,0A0.7,0.7,0,1,1,0.7,0","symbolSize":100,"symbolStrokeWidth":1.5,"labelFontSize":18,"labelOffset":15,"rowPadding":3,
      "encode":{"symbols":{"update":{"strokeDash":{"signal":"datum.value === 'Peak-aligned' ? [5,3] : [1,0]"}}}}}},
    "stroke":{"field":"s","type":"nominal","scale":{"domain":["Weighted","Peak-aligned","No weight"],"range":["black","black","#999999"]},
     "legend":{"title":null,"orient":"none","legendX":25,"legendY":-6,"symbolType":"M-3,0H-0.7M0.7,0H3M0.7,0A0.7,0.7,0,1,1,-0.7,0A0.7,0.7,0,1,1,0.7,0","symbolSize":100,"symbolStrokeWidth":1.5,"labelFontSize":18,"labelOffset":15,"rowPadding":3,
      "encode":{"symbols":{"update":{"strokeDash":{"signal":"datum.value === 'Peak-aligned' ? [5,3] : [1,0]"}}}}}}
   }}
 ]
}
],
"config":{
 "view":{"stroke":null},
 "font":"Liberation Sans",
 "axis":{"domainColor":"black","domainWidth":1,"tickColor":"black","tickSize":-4,"tickWidth":1,"labelColor":"black","labelFont":"Liberation Sans","labelFontSize":17,"titleFont":"Liberation Sans","titleFontSize":19,"titleFontWeight":"normal","titleColor":"black","grid":false,"labelFlush":false,"labelOverlap":false,"titlePadding":4,"labelPadding":7},
 "title":{"fontSize":22,"fontWeight":"bold","font":"Liberation Sans","anchor":"start","frame":"group","baseline":"alphabetic","color":"black"},
 "legend":{"labelFont":"Liberation Sans","titleFont":"Liberation Sans","labelColor":"black","titleColor":"black"}
}
}
